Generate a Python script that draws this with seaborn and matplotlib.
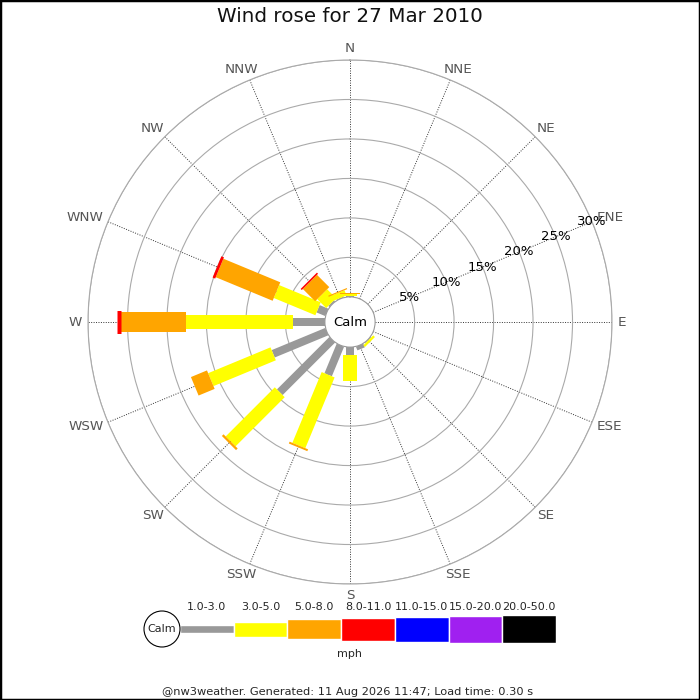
import numpy as np
import matplotlib
matplotlib.use('Agg')
import matplotlib.pyplot as plt
from matplotlib.patches import Circle, Rectangle
import seaborn as sns

sns.set_theme(style="white")
plt.rcParams['font.family'] = ['DejaVu Sans']

# data
directions = ['N', 'NNE', 'NE', 'ENE', 'E', 'ESE', 'SE', 'SSE',
              'S', 'SSW', 'SW', 'WSW', 'W', 'WNW', 'NW', 'NNW']
bands = ['1.0-3.0', '3.0-5.0', '5.0-8.0', '8.0-11.0', '11.0-15.0', '15.0-20.0', '20.0-50.0']
band_colors = ['#999999', '#ffff00', '#ffa500', '#ff0000', '#0000ff', '#a020f0', '#000000']
# percent of time per direction, per speed band
gray = [0.1, 0, 0, 0, 0, 0, 0.1, 0.5, 1.0, 4.05, 9.4, 7.35, 4.1, 1.2, 0.2, 0.1]
yellow = [0.3, 0, 0, 0, 0, 0, 0.3, 0, 3.3, 9.7, 8.8, 8.55, 13.5, 5.7, 1.6, 0.7]
orange = [0.12, 0, 0, 0, 0, 0, 0, 0, 0, 0.25, 0.3, 2.2, 8.2, 7.8, 2.2, 0.15]
red = [0, 0, 0, 0, 0, 0, 0, 0, 0, 0, 0, 0, 0.5, 0.35, 0.2, 0]
blue = [0] * 16
purple = [0] * 16
black = [0] * 16
ring_pcts = [5, 10, 15, 20, 25, 30]

series = [gray, yellow, orange, red, blue, purple, black]
bar_px = [8, 14, 20, 23, 25, 27, 28]          # bar thickness in pixels
legend_h = [8, 15, 20, 23, 25, 27, 28]

fig = plt.figure(figsize=(7, 7), dpi=100)
ax = fig.add_axes([88 / 700, 116 / 700, 524 / 700, 524 / 700], projection='polar')
ax.set_theta_zero_location('N')
ax.set_theta_direction(-1)
ax.set_ylim(0, 30)
ax.set_rorigin(-3.18)

theta = np.deg2rad(np.arange(16) * 22.5)
ax.set_xticks(theta)
ax.set_xticklabels([])
ax.set_yticks(ring_pcts)
ax.set_yticklabels([])
ax.tick_params(length=0)
ax.yaxis.grid(True, color='#aaaaaa', lw=0.8, ls='-')
ax.xaxis.grid(True, color='#333333', lw=0.7, ls=(0, (1, 1.5)))
ax.spines['polar'].set_color('#aaaaaa')
ax.spines['polar'].set_linewidth(0.8)
ax.spines['inner'].set_color('#999999')
ax.spines['inner'].set_linewidth(0.8)

# stacked bars as thick radial strokes
bottom = np.zeros(16)
for vals, col, w in zip(series, band_colors, bar_px):
    vals = np.array(vals, dtype=float)
    for t, b, v in zip(theta, bottom, vals):
        if v > 0:
            ax.plot([t, t], [b, b + v], color=col, lw=w * 0.72,
                    solid_capstyle='butt', zorder=3)
    bottom += vals

# compass labels, pushed outward by half their size
labels = []
for name, t in zip(directions, theta):
    a = ax.annotate(name, xy=(t, 30.76), xytext=(0, 0), textcoords='offset pixels',
                    ha='center', va='center', color='#555555', fontsize=9.7,
                    annotation_clip=False)
    labels.append(a)
fig.canvas.draw()
for a, t in zip(labels, theta):
    bb = a.get_window_extent()
    a.xyann = (bb.width / 2 * np.sin(t), bb.height * 0.4 * np.cos(t))

for p in ring_pcts:
    ax.text(np.deg2rad(67.5), p, f'{p}%', ha='center', va='center',
            color='black', fontsize=9.5, zorder=4)

ax.text(0.5, 0.5, 'Calm', transform=ax.transAxes, ha='center', va='center',
        fontsize=9.5, color='black', zorder=5)

fig.text(0.5, 1 - 16 / 700, 'Wind rose for 27 Mar 2010', ha='center', va='center',
         fontsize=14.3, color='#111111')

# legend strip
lax = fig.add_axes([180 / 700, (700 - 649) / 700, 376 / 700, 40 / 700])
lax.set_xlim(0, 376)
lax.set_ylim(-20, 20)
lax.axis('off')
seg = 376 / 7
lefts = np.arange(7) * seg
lax.barh(0, seg, left=lefts, height=legend_h, color=band_colors, align='center')
lax.add_patch(Circle((-18, 0), 18, facecolor='white', edgecolor='black', lw=0.8,
                     clip_on=False))
lax.text(-18, 0, 'Calm', ha='center', va='center', fontsize=8)
for x, lab in zip(lefts + seg / 2, bands):
    lax.text(x, 22, lab, ha='center', va='center', fontsize=8, clip_on=False)

fig.text(0.5, 1 - 654 / 700, 'mph', ha='center', va='center', fontsize=8)
fig.text(0.497, 1 - 692 / 700,
         '@nw3weather. Generated: 11 Aug 2026 11:47; Load time: 0.30 s',
         ha='center', va='center', fontsize=8.2)

fig.patches.append(Rectangle((0, 0), 1, 1, transform=fig.transFigure, fill=False,
                             edgecolor='black', lw=2.5))

fig.savefig('out.png', dpi=100)
